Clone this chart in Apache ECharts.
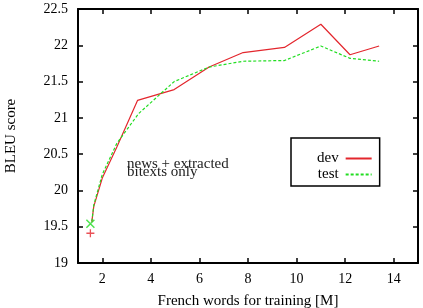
<!DOCTYPE html>
<html>
<head>
<meta charset="utf-8">
<script src="https://cdn.jsdelivr.net/npm/echarts@6/dist/echarts.min.js"></script>
<style>
  html, body { margin: 0; padding: 0; background: #fff; }
  #chart { width: 423px; height: 308px; }
</style>
</head>
<body>
<div id="chart"></div>
<script>
// dev / test curves (news + extracted), x = French words [M]
var devData = [[1.57, 19.57], [1.65, 19.78], [2.0, 20.17], [2.6, 20.6], [3.45, 21.24], [4.96, 21.39],
  [6.4, 21.7], [7.8, 21.9], [9.5, 21.97], [11.0, 22.29], [12.2, 21.87], [13.4, 21.99]];
var testData = [[1.57, 19.57], [1.65, 19.8], [2.0, 20.22], [2.6, 20.65], [3.5, 21.06], [4.96, 21.5],
  [6.4, 21.7], [7.8, 21.78], [9.5, 21.79], [11.0, 21.99], [12.2, 21.82], [13.4, 21.78]];
// bitexts only points
var devBitexts = [[1.51, 19.41]];
var testBitexts = [[1.51, 19.54]];
var xTicks = [2, 4, 6, 8, 10, 12, 14];

var font = "Liberation Serif";
var chart = echarts.init(document.getElementById("chart"));

var tickStyle = { show: true, inside: true, length: 5, lineStyle: { color: "#000", width: 1.5 } };
var lineAxis = { show: true, lineStyle: { color: "#000", width: 2 } };

var option = {
  animation: false,
  grid: { left: 78, right: 5, top: 9, bottom: 45, containLabel: false, outerBoundsMode: "none" },
  textStyle: { fontFamily: font },
  legend: {
    data: ["dev", "test"],
    orient: "vertical",
    left: 291,
    top: 138,
    align: "right",
    itemWidth: 26,
    itemHeight: 10,
    itemGap: 1,
    padding: [13, 7, 4, 26],
    borderColor: "#000",
    borderWidth: 1.5,
    itemStyle: { opacity: 0 },
    textStyle: { fontFamily: font, fontSize: 15, lineHeight: 14, color: "#000", padding: [0, 2, 0, 0] }
  },
  xAxis: [
    {
      type: "value", min: 1, max: 15,
      name: "French words for training [M]",
      nameLocation: "middle", nameGap: 31,
      nameTextStyle: { fontFamily: font, fontSize: 15, color: "#000" },
      axisLine: lineAxis,
      axisTick: Object.assign({ customValues: xTicks }, tickStyle),
      axisLabel: { customValues: xTicks, margin: 9, fontFamily: font, fontSize: 14, color: "#000" },
      splitLine: { show: false }
    },
    {
      type: "value", min: 1, max: 15, position: "top",
      axisLine: lineAxis,
      axisTick: Object.assign({ customValues: xTicks }, tickStyle),
      axisLabel: { show: false },
      splitLine: { show: false }
    }
  ],
  yAxis: [
    {
      type: "value", min: 19, max: 22.5, interval: 0.5,
      name: "BLEU score",
      nameLocation: "middle", nameGap: 59,
      nameTextStyle: { fontFamily: font, fontSize: 15, color: "#000" },
      axisLine: lineAxis,
      axisTick: tickStyle,
      axisLabel: { margin: 10, fontFamily: font, fontSize: 14, color: "#000" },
      splitLine: { show: false }
    },
    {
      type: "value", min: 19, max: 22.5, interval: 0.5, position: "right",
      axisLine: lineAxis,
      axisTick: tickStyle,
      axisLabel: { show: false },
      splitLine: { show: false }
    }
  ],
  series: [
    {
      name: "dev", type: "line", data: devData, symbol: "none",
      color: "#e3262d",
      lineStyle: { width: 1.2, color: "#e3262d" }
    },
    {
      name: "test", type: "line", data: testData, symbol: "none",
      color: "#22dd22",
      lineStyle: { width: 1.2, color: "#22dd22", type: [3, 2] }
    },
    {
      name: "dev bitexts", type: "scatter", data: devBitexts,
      symbol: "path://M0,5L10,5M5,0L5,10", symbolSize: 8,
      itemStyle: { color: "transparent", borderColor: "#e3262d", borderWidth: 1.3 }
    },
    {
      name: "test bitexts", type: "scatter", data: testBitexts,
      symbol: "path://M0,0L10,10M10,0L0,10", symbolSize: 8,
      itemStyle: { color: "transparent", borderColor: "#22dd22", borderWidth: 1.5 }
    }
  ],
  graphic: [
    { type: "text", left: 127, top: 157, style: { text: "news + extracted", font: "15px " + font, fill: "#222" } },
    { type: "text", left: 127, top: 165, style: { text: "bitexts only", font: "15px " + font, fill: "#222" } }
  ]
};
chart.setOption(option);
</script>
</body>
</html>
